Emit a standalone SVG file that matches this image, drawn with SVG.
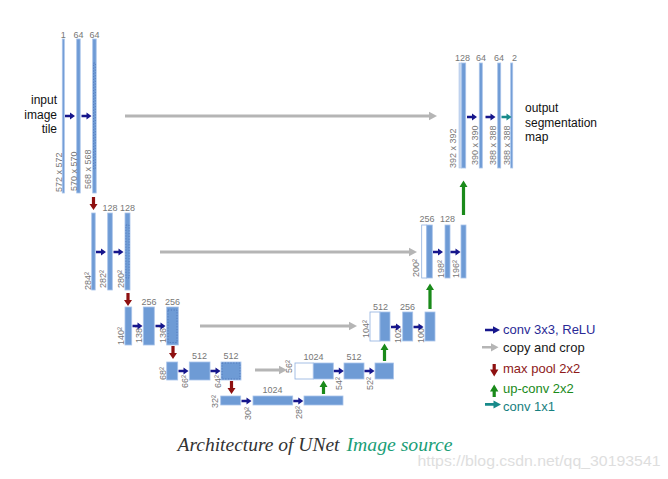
<svg xmlns="http://www.w3.org/2000/svg" xmlns:xlink="http://www.w3.org/1999/xlink" width="668" height="479" viewBox="0 0 668 479">
<style>
.b{fill:#6e9bd5;stroke:#a9c4ea;stroke-width:0.8}
.w{fill:#ffffff;stroke:#8fb0de;stroke-width:0.8}
.dash{fill:none;stroke:#3f66ad;stroke-width:0.6;stroke-dasharray:1.2,1.6}
.n{font-family:"Liberation Sans",Arial,sans-serif;font-size:9px;fill:#777;text-anchor:middle}
.r{font-family:"Liberation Sans",Arial,sans-serif;font-size:9px;fill:#777}
.t{font-family:"Liberation Sans",Arial,sans-serif;font-size:12px;fill:#111}
.lg{font-family:"Liberation Sans",Arial,sans-serif;font-size:13px}
.gl{stroke:#b5b5b5;stroke-width:3;fill:none}
</style>
<defs>
<path id="ar" d="M0,-1.3 H5 V-3.6 L10,0 L5,3.6 V1.3 H0 Z" fill="#16168c"/>
<path id="at" d="M0,-1.3 H5 V-3.6 L10,0 L5,3.6 V1.3 H0 Z" fill="#178a8a"/>
<path id="ad" d="M-1.6,0 V7 H-4 L0,13 L4,7 H1.6 V0 Z" fill="#8e1010"/>
<path id="gh" d="M-8,-4.2 L0,0 L-8,4.2 Z" fill="#b5b5b5"/>
</defs>
<rect width="668" height="479" fill="#ffffff"/>

<!-- text labels -->
<g id="input-label">
<text class="t" x="57" y="104" text-anchor="end">input</text>
<text class="t" x="57" y="119" text-anchor="end">image</text>
<text class="t" x="57" y="133" text-anchor="end">tile</text>
</g>
<g id="output-label">
<text class="t" x="525" y="112">output</text>
<text class="t" x="525" y="127">segmentation</text>
<text class="t" x="525" y="141">map</text>
</g>

<!-- Level 1 left -->
<g id="L1a"><rect class="b" x="62.3" y="39" width="2" height="154"/><text class="n" x="63.3" y="38">1</text>
<text class="r" transform="translate(62,192) rotate(-90)">572 x 572</text></g>
<g id="L1b"><rect class="b" x="76.7" y="39" width="3.5" height="154"/><text class="n" x="78.5" y="38">64</text>
<text class="r" transform="translate(76.5,191) rotate(-90)">570 x 570</text></g>
<g id="L1c"><rect class="b" x="92.7" y="39" width="3.5" height="154"/><rect class="dash" x="93.5" y="63" width="1.9" height="106"/><text class="n" x="94.5" y="38">64</text>
<text class="r" transform="translate(91,189) rotate(-90)">568 x 568</text></g>

<!-- Level 2 left -->
<g id="L2a"><rect class="b" x="91.7" y="213" width="3.5" height="77"/>
<text class="r" transform="translate(90.5,290) rotate(-90)">284²</text></g>
<g id="L2b"><rect class="b" x="107.7" y="213" width="4.6" height="77"/><text class="n" x="110" y="211">128</text>
<text class="r" transform="translate(106,288) rotate(-90)">282²</text></g>
<g id="L2c"><rect class="b" x="125" y="213" width="5" height="77"/><rect class="dash" x="125.9" y="225" width="3.2" height="53"/><text class="n" x="127.5" y="211">128</text>
<text class="r" transform="translate(124,288) rotate(-90)">280²</text></g>

<!-- Level 3 left -->
<g id="L3a"><rect class="b" x="125" y="307" width="6.7" height="38"/>
<text class="r" transform="translate(123.5,345) rotate(-90)">140²</text></g>
<g id="L3b"><rect class="b" x="143.3" y="307" width="11" height="38"/><text class="n" x="149" y="305">256</text>
<text class="r" transform="translate(142,343) rotate(-90)">138²</text></g>
<g id="L3c"><rect class="b" x="166.7" y="307" width="11.6" height="38"/><rect class="dash" x="168" y="310" width="9" height="32.5"/><text class="n" x="172.5" y="305">256</text>
<text class="r" transform="translate(165.5,343) rotate(-90)">136²</text></g>

<!-- Level 4 left -->
<g id="L4a"><rect class="b" x="166.7" y="362" width="11" height="18"/>
<text class="r" transform="translate(166,380) rotate(-90)">68²</text></g>
<g id="L4b"><rect class="b" x="189.3" y="362" width="20.7" height="18"/><text class="n" x="199.5" y="359">512</text>
<text class="r" transform="translate(187.5,388) rotate(-90)">66²</text></g>
<g id="L4c"><rect class="b" x="221" y="362" width="20" height="18"/><rect class="dash" x="222" y="363" width="18" height="16"/><text class="n" x="231" y="359">512</text>
<text class="r" transform="translate(220.5,388) rotate(-90)">64²</text></g>

<!-- Level 5 -->
<g id="L5a"><rect class="b" x="220.7" y="396" width="20" height="9"/>
<text class="r" transform="translate(217.5,408) rotate(-90)">32²</text></g>
<g id="L5b"><rect class="b" x="253" y="396" width="39.7" height="9"/><text class="n" x="272.5" y="393">1024</text>
<text class="r" transform="translate(251,420) rotate(-90)">30²</text></g>
<g id="L5c"><rect class="b" x="304" y="396" width="39" height="9"/>
<text class="r" transform="translate(302,419) rotate(-90)">28²</text></g>

<!-- Level 4 right -->
<g id="R4a"><rect class="w" x="295" y="363" width="18.3" height="16"/><rect class="b" x="313.3" y="363" width="20" height="16"/><text class="n" x="313.5" y="360">1024</text>
<text class="r" transform="translate(292,373) rotate(-90)">56²</text></g>
<g id="R4b"><rect class="b" x="344" y="363" width="20" height="16"/><text class="n" x="354" y="360">512</text>
<text class="r" transform="translate(342,390) rotate(-90)">54²</text></g>
<g id="R4c"><rect class="b" x="375" y="363" width="18.5" height="16"/>
<text class="r" transform="translate(373,390) rotate(-90)">52²</text></g>

<!-- Level 3 right -->
<g id="R3a"><rect class="w" x="370" y="312" width="10" height="29"/><rect class="b" x="380" y="312" width="10" height="29"/><text class="n" x="380.5" y="310">512</text>
<text class="r" transform="translate(368.5,338) rotate(-90)">104²</text></g>
<g id="R3b"><rect class="b" x="402.7" y="312" width="10" height="29"/><text class="n" x="407.5" y="310">256</text>
<text class="r" transform="translate(400.5,343) rotate(-90)">102²</text></g>
<g id="R3c"><rect class="b" x="425" y="312" width="10" height="29"/>
<text class="r" transform="translate(423.5,343) rotate(-90)">100²</text></g>

<!-- Level 2 right -->
<g id="R2a"><rect class="w" x="421.7" y="225" width="5" height="53"/><rect class="b" x="426.7" y="225" width="5.6" height="53"/><text class="n" x="427" y="222">256</text>
<text class="r" transform="translate(418.5,277) rotate(-90)">200²</text></g>
<g id="R2b"><rect class="b" x="445" y="225" width="5" height="53"/><text class="n" x="447.5" y="222">128</text>
<text class="r" transform="translate(443.5,278) rotate(-90)">198²</text></g>
<g id="R2c"><rect class="b" x="461" y="225" width="5" height="53"/>
<text class="r" transform="translate(459,278) rotate(-90)">196²</text></g>

<!-- Level 1 right -->
<g id="R1a"><rect x="459" y="63" width="2.7" height="105" fill="#c9d9ef" stroke="#a9c4ea" stroke-width="0.6"/><rect class="b" x="461.7" y="63" width="4" height="105"/><text class="n" x="462.5" y="61">128</text>
<text class="r" transform="translate(456,168) rotate(-90)">392 x 392</text></g>
<g id="R1b"><rect class="b" x="479.3" y="63" width="3" height="105"/><text class="n" x="481" y="61">64</text>
<text class="r" transform="translate(477.5,165) rotate(-90)">390 x 390</text></g>
<g id="R1c"><rect class="b" x="497.7" y="63" width="3" height="105"/><text class="n" x="499" y="61">64</text>
<text class="r" transform="translate(496,165) rotate(-90)">388 x 388</text></g>
<g id="R1d"><rect class="b" x="510.7" y="63" width="2" height="105"/><text class="n" x="514.5" y="61">2</text>
<text class="r" transform="translate(509.5,165) rotate(-90)">388 x 388</text></g>

<!-- connectors -->
<g id="connectors">
<use xlink:href="#ar" x="65" y="116"/>
<use xlink:href="#ar" x="81.5" y="116"/>
<use xlink:href="#ar" x="96" y="252"/>
<use xlink:href="#ar" x="113.5" y="252"/>
<use xlink:href="#ar" x="132.5" y="326"/>
<use xlink:href="#ar" x="155.5" y="326"/>
<use xlink:href="#ar" x="178.5" y="371"/>
<use xlink:href="#ar" x="210.5" y="371"/>
<use xlink:href="#ar" x="241.5" y="401"/>
<use xlink:href="#ar" x="293.3" y="401"/>
<use xlink:href="#ar" x="333.8" y="371"/>
<use xlink:href="#ar" x="364.5" y="371"/>
<use xlink:href="#ar" x="391" y="327"/>
<use xlink:href="#ar" x="413.5" y="327"/>
<use xlink:href="#ar" x="433" y="252"/>
<use xlink:href="#ar" x="450.5" y="252"/>
<use xlink:href="#ar" x="467" y="117"/>
<use xlink:href="#ar" x="485.5" y="117"/>
<use xlink:href="#at" x="501.5" y="117"/>
<line class="gl" x1="125" y1="116" x2="430" y2="116"/><use xlink:href="#gh" x="437" y="116"/>
<line class="gl" x1="160" y1="252" x2="410" y2="252"/><use xlink:href="#gh" x="417" y="252"/>
<line class="gl" x1="200" y1="326" x2="350" y2="326"/><use xlink:href="#gh" x="357" y="326"/>
<line class="gl" x1="255" y1="370" x2="280" y2="370"/><use xlink:href="#gh" x="287" y="370"/>
<use xlink:href="#ad" x="93.5" y="197"/>
<use xlink:href="#ad" x="128" y="293"/>
<use xlink:href="#ad" x="173" y="346"/>
<use xlink:href="#ad" x="231.5" y="381"/>
<path d="M321.9,394 V387 H319.5 L323.5,380.5 L327.5,387 H325.1 V394 Z" fill="#1a8a1a"/>
<path d="M382.9,361 V350 H380.5 L384.5,343.5 L388.5,350 H386.1 V361 Z" fill="#1a8a1a"/>
<path d="M428.4,309 V290 H426 L430,283.5 L434,290 H431.6 V309 Z" fill="#1a8a1a"/>
<path d="M461.9,215 V187 H459.5 L463.5,180.5 L467.5,187 H465.1 V215 Z" fill="#1a8a1a"/>
</g>

<!-- legend -->
<g id="legend">
<path d="M485,328.7 H493 V326.2 L500,330 L493,333.8 V331.3 H485 Z" fill="#16168c"/>
<text class="lg" x="503" y="334" fill="#2a2a96">conv 3x3, ReLU</text>
<path d="M482,346 H491 V343.2 L498.5,347.3 L491,351.4 V348.6 H482 Z" fill="#b5b5b5"/>
<text class="lg" x="503" y="352" fill="#1a1a1a">copy and crop</text>
<path d="M492.6,364 V369.5 H490 L494.2,376.5 L498.4,369.5 H495.8 V364 Z" fill="#8e1010"/>
<text class="lg" x="503" y="373" fill="#8e1a1a">max pool 2x2</text>
<path d="M492.6,397 V391.5 H490 L494.2,384.5 L498.4,391.5 H495.8 V397 Z" fill="#1a8a1a"/>
<text class="lg" x="503" y="393" fill="#1a8a1a">up-conv 2x2</text>
<path d="M485,403 H493.5 V400.4 L501,404.4 L493.5,408.4 V405.8 H485 Z" fill="#178a8a"/>
<text class="lg" x="503" y="411" fill="#178080">conv 1x1</text>
</g>

<!-- caption -->
<g id="caption">
<text x="177.5" y="451" font-family="'Liberation Serif',serif" font-style="italic" font-size="19" fill="#333" textLength="162" lengthAdjust="spacingAndGlyphs">Architecture of UNet</text>
<text x="346.5" y="451" font-family="'Liberation Serif',serif" font-style="italic" font-size="19" fill="#1a9e77" textLength="106" lengthAdjust="spacingAndGlyphs">Image source</text>
<text x="417.5" y="466" font-family="'Liberation Sans',Arial,sans-serif" font-size="14.5" fill="#dedede" textLength="243" lengthAdjust="spacingAndGlyphs">https://blog.csdn.net/qq_30193541</text>
</g>
</svg>
